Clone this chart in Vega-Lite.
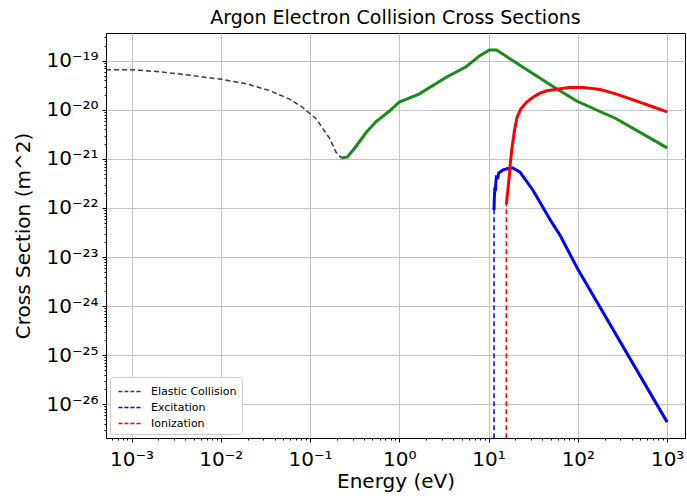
{
  "$schema": "https://vega.github.io/schema/vega-lite/v6.json",
  "width": 579,
  "height": 405,
  "autosize": "none",
  "padding": {"left": 106, "top": 33, "right": 2, "bottom": 61},
  "background": "white",
  "title": {"text": "Argon Electron Collision Cross Sections", "fontSize": 19, "font": "DejaVu Sans", "fontWeight": "normal", "color": "black", "anchor": "middle", "offset": 5},
  "config": {
    "view": {"stroke": "black", "strokeWidth": 1},
    "font": "DejaVu Sans"
  },
  "datasets": {
    "cs": [
      {"series": "Elastic Collision", "part": "dashed", "E": 0.000518, "sigma": 6.6e-20},
      {"series": "Elastic Collision", "part": "dashed", "E": 0.001, "sigma": 6.6e-20},
      {"series": "Elastic Collision", "part": "dashed", "E": 0.00204, "sigma": 6.0e-20},
      {"series": "Elastic Collision", "part": "dashed", "E": 0.00447, "sigma": 5.1e-20},
      {"series": "Elastic Collision", "part": "dashed", "E": 0.0102, "sigma": 4.2e-20},
      {"series": "Elastic Collision", "part": "dashed", "E": 0.0195, "sigma": 3.4e-20},
      {"series": "Elastic Collision", "part": "dashed", "E": 0.0347, "sigma": 2.5e-20},
      {"series": "Elastic Collision", "part": "dashed", "E": 0.059, "sigma": 1.66e-20},
      {"series": "Elastic Collision", "part": "dashed", "E": 0.081, "sigma": 1.15e-20},
      {"series": "Elastic Collision", "part": "dashed", "E": 0.117, "sigma": 6.6e-21},
      {"series": "Elastic Collision", "part": "dashed", "E": 0.166, "sigma": 2.6e-21},
      {"series": "Elastic Collision", "part": "dashed", "E": 0.195, "sigma": 1.38e-21},
      {"series": "Elastic Collision", "part": "dashed", "E": 0.224, "sigma": 1.05e-21},
      {"series": "Elastic Collision", "part": "solid", "E": 0.224, "sigma": 1.05e-21},
      {"series": "Elastic Collision", "part": "solid", "E": 0.263, "sigma": 1.1e-21},
      {"series": "Elastic Collision", "part": "solid", "E": 0.331, "sigma": 1.86e-21},
      {"series": "Elastic Collision", "part": "solid", "E": 0.427, "sigma": 3.5e-21},
      {"series": "Elastic Collision", "part": "solid", "E": 0.55, "sigma": 5.8e-21},
      {"series": "Elastic Collision", "part": "solid", "E": 0.776, "sigma": 9.5e-21},
      {"series": "Elastic Collision", "part": "solid", "E": 1.0, "sigma": 1.45e-20},
      {"series": "Elastic Collision", "part": "solid", "E": 1.66, "sigma": 2.1e-20},
      {"series": "Elastic Collision", "part": "solid", "E": 3.39, "sigma": 4.7e-20},
      {"series": "Elastic Collision", "part": "solid", "E": 5.6, "sigma": 7.6e-20},
      {"series": "Elastic Collision", "part": "solid", "E": 7.9, "sigma": 1.26e-19},
      {"series": "Elastic Collision", "part": "solid", "E": 10.2, "sigma": 1.66e-19},
      {"series": "Elastic Collision", "part": "solid", "E": 12.3, "sigma": 1.66e-19},
      {"series": "Elastic Collision", "part": "solid", "E": 51, "sigma": 3.1e-20},
      {"series": "Elastic Collision", "part": "solid", "E": 98, "sigma": 1.5e-20},
      {"series": "Elastic Collision", "part": "solid", "E": 269, "sigma": 6.6e-21},
      {"series": "Elastic Collision", "part": "solid", "E": 1000, "sigma": 1.68e-21},
      {"series": "Excitation", "part": "dashed", "E": 11.5, "sigma": 1e-28},
      {"series": "Excitation", "part": "dashed", "E": 11.5, "sigma": 9.0e-23},
      {"series": "Excitation", "part": "solid", "E": 11.5, "sigma": 9.0e-23},
      {"series": "Excitation", "part": "solid", "E": 11.6, "sigma": 1.6e-22},
      {"series": "Excitation", "part": "solid", "E": 11.75, "sigma": 2.6e-22},
      {"series": "Excitation", "part": "solid", "E": 11.9, "sigma": 2.2e-22},
      {"series": "Excitation", "part": "solid", "E": 12.1, "sigma": 3.6e-22},
      {"series": "Excitation", "part": "solid", "E": 12.3, "sigma": 4.6e-22},
      {"series": "Excitation", "part": "solid", "E": 12.6, "sigma": 3.9e-22},
      {"series": "Excitation", "part": "solid", "E": 13.0, "sigma": 5.2e-22},
      {"series": "Excitation", "part": "solid", "E": 13.6, "sigma": 5.5e-22},
      {"series": "Excitation", "part": "solid", "E": 14.6, "sigma": 6.0e-22},
      {"series": "Excitation", "part": "solid", "E": 16.5, "sigma": 6.4e-22},
      {"series": "Excitation", "part": "solid", "E": 18.5, "sigma": 6.6e-22},
      {"series": "Excitation", "part": "solid", "E": 22.5, "sigma": 5.4e-22},
      {"series": "Excitation", "part": "solid", "E": 31.4, "sigma": 2.3e-22},
      {"series": "Excitation", "part": "solid", "E": 48.7, "sigma": 5.8e-23},
      {"series": "Excitation", "part": "solid", "E": 63, "sigma": 2.8e-23},
      {"series": "Excitation", "part": "solid", "E": 100, "sigma": 5.6e-24},
      {"series": "Excitation", "part": "solid", "E": 1000, "sigma": 4.3e-27},
      {"series": "Ionization", "part": "dashed", "E": 15.76, "sigma": 1e-28},
      {"series": "Ionization", "part": "dashed", "E": 15.8, "sigma": 1.2e-22},
      {"series": "Ionization", "part": "solid", "E": 15.8, "sigma": 1.2e-22},
      {"series": "Ionization", "part": "solid", "E": 16.9, "sigma": 3.7e-22},
      {"series": "Ionization", "part": "solid", "E": 17.5, "sigma": 8e-22},
      {"series": "Ionization", "part": "solid", "E": 18.2, "sigma": 1.6e-21},
      {"series": "Ionization", "part": "solid", "E": 19.5, "sigma": 3.8e-21},
      {"series": "Ionization", "part": "solid", "E": 20.8, "sigma": 7e-21},
      {"series": "Ionization", "part": "solid", "E": 23, "sigma": 1.05e-20},
      {"series": "Ionization", "part": "solid", "E": 26.9, "sigma": 1.46e-20},
      {"series": "Ionization", "part": "solid", "E": 32, "sigma": 1.85e-20},
      {"series": "Ionization", "part": "solid", "E": 37.7, "sigma": 2.2e-20},
      {"series": "Ionization", "part": "solid", "E": 45, "sigma": 2.45e-20},
      {"series": "Ionization", "part": "solid", "E": 58, "sigma": 2.65e-20},
      {"series": "Ionization", "part": "solid", "E": 80, "sigma": 2.85e-20},
      {"series": "Ionization", "part": "solid", "E": 115, "sigma": 2.85e-20},
      {"series": "Ionization", "part": "solid", "E": 178, "sigma": 2.6e-20},
      {"series": "Ionization", "part": "solid", "E": 270, "sigma": 2.1e-20},
      {"series": "Ionization", "part": "solid", "E": 417, "sigma": 1.6e-20},
      {"series": "Ionization", "part": "solid", "E": 650, "sigma": 1.2e-20},
      {"series": "Ionization", "part": "solid", "E": 1000, "sigma": 9.1e-21}
    ]
  },
  "data": {"name": "cs"},
  "resolve": {"axis": {"x": "independent", "y": "independent"}},
  "layer": [
    {
      "transform": [{"filter": "datum.part === 'dashed'"}],
      "mark": {"type": "line", "strokeDash": [5, 3], "strokeWidth": 1.5, "clip": true},
      "encoding": {
        "x": {"field": "E", "type": "quantitative",
          "scale": {"type": "log", "domain": [0.000518, 1585], "nice": false},
          "axis": {"orient": "bottom", "values": [0.001, 0.01, 0.1, 1, 10, 100, 1000], "grid": true, "gridColor": "#c4c4c4", "gridWidth": 1,
            "domain": false, "tickColor": "black", "tickSize": 4, "labelFontSize": 20, "labelColor": "black", "labelPadding": 7, "labelFlush": false, "labelOverlap": false,
            "labelExpr": "'10' + (round(log(datum.value)/LN10) < 0 ? '⁻' : '') + (abs(round(log(datum.value)/LN10)) >= 10 ? ['⁰','¹','²','³','⁴','⁵','⁶','⁷','⁸','⁹'][floor(abs(round(log(datum.value)/LN10))/10)] : '') + ['⁰','¹','²','³','⁴','⁵','⁶','⁷','⁸','⁹'][abs(round(log(datum.value)/LN10)) % 10]",
            "title": "Energy (eV)", "titleFontSize": 20, "titleFontWeight": "normal", "titleColor": "black", "titlePadding": 2}},
        "y": {"field": "sigma", "type": "quantitative",
          "scale": {"type": "log", "domain": [2.04e-27, 3.7e-19], "nice": false},
          "axis": {"orient": "left", "values": [1e-26, 1e-25, 1e-24, 1e-23, 1e-22, 1e-21, 1e-20, 1e-19], "grid": true, "gridColor": "#c4c4c4", "gridWidth": 1,
            "domain": false, "tickColor": "black", "tickSize": 4, "labelFontSize": 20, "labelColor": "black", "labelPadding": 4, "labelFlush": false, "labelOverlap": false,
            "labelExpr": "'10' + (round(log(datum.value)/LN10) < 0 ? '⁻' : '') + (abs(round(log(datum.value)/LN10)) >= 10 ? ['⁰','¹','²','³','⁴','⁵','⁶','⁷','⁸','⁹'][floor(abs(round(log(datum.value)/LN10))/10)] : '') + ['⁰','¹','²','³','⁴','⁵','⁶','⁷','⁸','⁹'][abs(round(log(datum.value)/LN10)) % 10]",
            "title": "Cross Section (m^2)", "titleFontSize": 20, "titleFontWeight": "normal", "titleColor": "black", "titlePadding": 12}},
        "color": {"field": "series", "type": "nominal",
          "scale": {"domain": ["Elastic Collision", "Excitation", "Ionization"], "range": ["#3a3a3a", "blue", "red"]},
          "legend": {"orient": "none", "legendX": 4, "legendY": 344, "title": null, "symbolType": "M-0.7,0H2.1", "symbolSize": 300, "symbolStrokeWidth": 1.5, "symbolDash": [4, 2], "symbolFillColor": "transparent",
            "labelFontSize": 11, "labelColor": "black", "fillColor": "white", "strokeColor": "#cccccc", "cornerRadius": 3, "padding": 5, "rowPadding": 1, "labelOffset": 17}}
      }
    },
    {
      "transform": [{"filter": "datum.part === 'solid' && datum.series === 'Elastic Collision'"}],
      "mark": {"type": "line", "color": "#1a8a1a", "strokeWidth": 3, "clip": true},
      "encoding": {
        "x": {"field": "E", "type": "quantitative", "axis": {"orient": "bottom", "values": [0.0006, 0.0007, 0.0008, 0.0009, 0.002, 0.003, 0.004, 0.005, 0.006, 0.007, 0.008, 0.009, 0.02, 0.03, 0.04, 0.05, 0.06, 0.07, 0.08, 0.09, 0.2, 0.3, 0.4, 0.5, 0.6, 0.7, 0.8, 0.9, 2, 3, 4, 5, 6, 7, 8, 9, 20, 30, 40, 50, 60, 70, 80, 90, 200, 300, 400, 500, 600, 700, 800, 900], "grid": false, "labels": false, "title": null, "domain": true, "domainColor": "black", "tickColor": "black", "tickSize": 2}},
        "y": {"field": "sigma", "type": "quantitative", "axis": {"orient": "left", "values": [3e-27, 4e-27, 5e-27, 6e-27, 7e-27, 8e-27, 9e-27, 2e-26, 3e-26, 4e-26, 5e-26, 6e-26, 7e-26, 8e-26, 9e-26, 2e-25, 3e-25, 4e-25, 5e-25, 6e-25, 7e-25, 8e-25, 9e-25, 2e-24, 3e-24, 4e-24, 5e-24, 6e-24, 7e-24, 8e-24, 9e-24, 2e-23, 3e-23, 4e-23, 5e-23, 6e-23, 7e-23, 8e-23, 9e-23, 2e-22, 3e-22, 4e-22, 5e-22, 6e-22, 7e-22, 8e-22, 9e-22, 2e-21, 3e-21, 4e-21, 5e-21, 6e-21, 7e-21, 8e-21, 9e-21, 2e-20, 3e-20, 4e-20, 5e-20, 6e-20, 7e-20, 8e-20, 9e-20, 2e-19, 3e-19], "grid": false, "labels": false, "title": null, "domain": true, "domainColor": "black", "tickColor": "black", "tickSize": 2}}
      }
    },
    {
      "transform": [{"filter": "datum.part === 'solid' && datum.series === 'Excitation'"}],
      "mark": {"type": "line", "color": "blue", "strokeWidth": 3, "clip": true},
      "encoding": {
        "x": {"field": "E", "type": "quantitative", "axis": null},
        "y": {"field": "sigma", "type": "quantitative", "axis": null}
      }
    },
    {
      "transform": [{"filter": "datum.part === 'solid' && datum.series === 'Ionization'"}],
      "mark": {"type": "line", "color": "red", "strokeWidth": 3, "clip": true},
      "encoding": {
        "x": {"field": "E", "type": "quantitative", "axis": null},
        "y": {"field": "sigma", "type": "quantitative", "axis": null}
      }
    }
  ]
}
